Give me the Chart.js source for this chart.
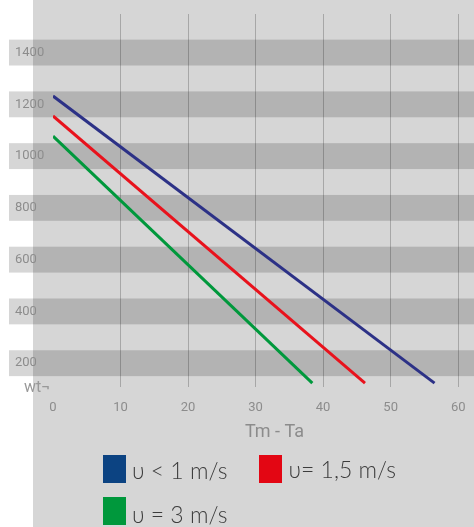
<!DOCTYPE html>
<html>
<head>
<meta charset="utf-8">
<script src="https://cdn.jsdelivr.net/npm/chart.js@4/dist/chart.umd.min.js"></script>
<style>
  html, body { margin: 0; padding: 0; overflow: hidden; }
  #wrap {
    position: relative;
    width: 474px;
    height: 527px;
    overflow: hidden;
    background: linear-gradient(to right, #ffffff 33px, #d6d6d6 33px);
  }
  #chart { position: absolute; left: 0; top: 0; }
  #legend {
    position: absolute;
    left: 103px;
    top: 455px;
    width: 300px;
    display: flex;
    flex-wrap: wrap;
    column-gap: 32px;
    row-gap: 14px;
    font-family: "Lato Light", "Lato", "Open Sans", sans-serif;
    font-weight: 300;
    font-size: 23px;
    color: #3c3c3c;
  }
  .item { display: flex; align-items: flex-start; height: 28px; }
  .swatch { width: 23px; height: 28px; margin-right: 6px; flex: none; }
  .label { line-height: 28px; white-space: nowrap; }
  .item:nth-child(1) .label { padding-top: 1px; }
  .item:nth-child(3) .label { padding-top: 3px; }
</style>
</head>
<body>
<div id="wrap">
  <canvas id="chart" width="496" height="527"></canvas>
  <div id="legend"></div>
</div>
<script>
// values
const seriesLabels = ['υ < 1 m/s', 'υ= 1,5 m/s', 'υ = 3 m/s'];
const lowWindX = [0, 56.5];
const lowWindY = [1232, 123];
const midWindX = [0, 46.2];
const midWindY = [1155, 123];
const highWindX = [0, 38.4];
const highWindY = [1077, 123];
const xTicks = [0, 10, 20, 30, 40, 50, 60];
const yTicks = [200, 400, 600, 800, 1000, 1200, 1400];

const lineColors = ['#2c3186', '#e8121c', '#00983c'];
const swatchColors = ['#0c4382', '#e30613', '#00983c'];

function toPoints(xs, ys) {
    return xs.map((x, i) => ({ x: x, y: ys[i] }));
}

// grey bands behind each y tick
const bandPlugin = {
    id: 'bands',
    beforeDraw(chart) {
        const ctx = chart.ctx;
        const y = chart.scales.y;
        ctx.save();
        ctx.fillStyle = 'rgba(0, 0, 0, 0.16)';
        yTicks.forEach(t => {
            const top = y.getPixelForValue(t + 50);
            const bottom = y.getPixelForValue(t - 50);
            ctx.fillRect(9, top, chart.width - 9, bottom - top);
        });
        ctx.restore();
    },
    afterDraw(chart) {
        // unit label under the y axis
        const ctx = chart.ctx;
        const area = chart.chartArea;
        ctx.save();
        ctx.fillStyle = '#999999';
        ctx.font = '16px Roboto';
        ctx.textBaseline = 'alphabetic';
        ctx.fillText('wt¬', area.left - 29, area.bottom + 5);
        ctx.restore();
    }
};

// legend as html so it can wrap like the original
const htmlLegend = {
    id: 'htmlLegend',
    afterUpdate(chart) {
        const box = document.getElementById('legend');
        box.innerHTML = '';
        chart.data.datasets.forEach(ds => {
            const item = document.createElement('div');
            item.className = 'item';
            const sw = document.createElement('span');
            sw.className = 'swatch';
            sw.style.background = ds.swatchColor;
            const txt = document.createElement('span');
            txt.className = 'label';
            txt.textContent = ds.label;
            item.appendChild(sw);
            item.appendChild(txt);
            box.appendChild(item);
        });
    }
};

const ctx = document.getElementById('chart').getContext('2d');
new Chart(ctx, {
    type: 'line',
    data: {
        datasets: [
            { label: seriesLabels[0], data: toPoints(lowWindX, lowWindY), borderColor: lineColors[0], swatchColor: swatchColors[0] },
            { label: seriesLabels[1], data: toPoints(midWindX, midWindY), borderColor: lineColors[1], swatchColor: swatchColors[1] },
            { label: seriesLabels[2], data: toPoints(highWindX, highWindY), borderColor: lineColors[2], swatchColor: swatchColors[2] }
        ]
    },
    options: {
        responsive: false,
        animation: false,
        layout: { padding: { left: 15, top: 14, right: 0, bottom: 60 } },
        elements: {
            line: { borderWidth: 3, tension: 0 },
            point: { radius: 0, hoverRadius: 0 }
        },
        plugins: {
            legend: { display: false },
            tooltip: { enabled: false }
        },
        scales: {
            x: {
                type: 'linear',
                min: 0,
                max: 65.6,
                afterBuildTicks: s => { s.ticks = xTicks.map(v => ({ value: v })); },
                afterFit: s => { s.height = 80; },
                border: { display: false },
                grid: {
                    drawTicks: false,
                    lineWidth: 1,
                    color: c => (c.tick && c.tick.value === 0) ? 'rgba(0,0,0,0)' : 'rgba(0,0,0,0.22)'
                },
                ticks: {
                    color: '#8c8c8c',
                    font: { family: 'Roboto', size: 13 },
                    padding: 13,
                    maxRotation: 0,
                    callback: v => String(v)
                },
                title: {
                    display: true,
                    text: 'Tm - Ta',
                    color: '#8c8c8c',
                    font: { family: 'Roboto', size: 18 },
                    padding: { top: 4, bottom: 24 }
                }
            },
            y: {
                min: 108,
                max: 1549,
                afterBuildTicks: s => { s.ticks = yTicks.map(v => ({ value: v })); },
                afterFit: s => { s.width = 38; },
                border: { display: false },
                grid: { display: false, drawTicks: false },
                ticks: {
                    color: '#8c8c8c',
                    font: { family: 'Roboto', size: 13 },
                    crossAlign: 'far',
                    callback: v => String(v)
                }
            }
        }
    },
    plugins: [bandPlugin, htmlLegend]
});
</script>
</body>
</html>
